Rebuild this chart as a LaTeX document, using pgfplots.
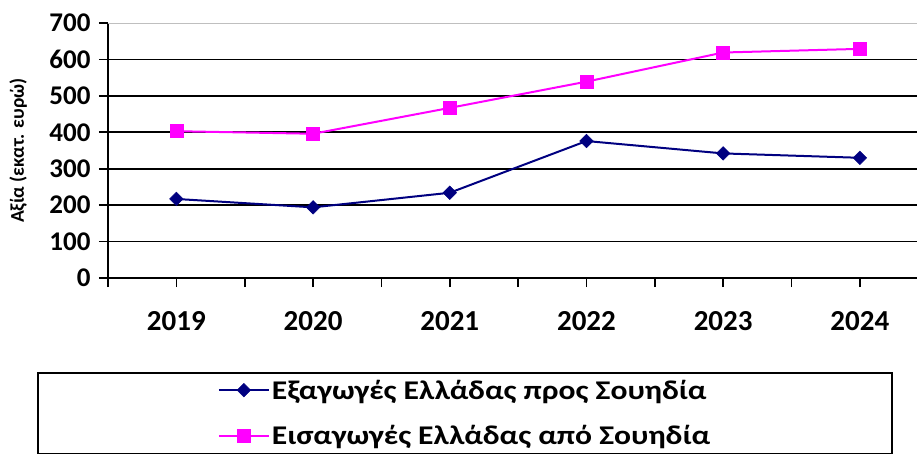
\documentclass[border=0pt]{standalone}
\usepackage{fontspec}
\setmainfont{Carlito}
\usepackage{graphicx}
\usepackage{pgfplots}
\pgfplotsset{compat=1.18}
\definecolor{navyc}{RGB}{0,0,128}
\definecolor{magc}{RGB}{255,0,255}
\begin{document}
\begin{tikzpicture}
\clip (-108pt,-178pt) rectangle (809pt,23pt+255pt);
\begin{axis}[
  scale only axis, width=809pt, height=255pt,
  xmin=-0.5, xmax=5.418, ymin=0, ymax=700,
  axis lines=left, axis line style={black, line width=1.6pt, -},
  xtick={0,1,2,3,4,5}, xticklabels={2019,2020,2021,2022,2023,2024},
  minor xtick={-0.5,0.5,1.5,2.5,3.5,4.5},
  ytick={0,100,200,300,400,500,600},
  extra y ticks={700},
  extra y tick style={grid style={gray!50, line width=0.8pt}},
  ymajorgrids, grid style={black, line width=1.6pt},
  tick align=outside, major tick length=9pt, minor tick length=9pt,
  tick style={black, line width=1.6pt},
  /pgf/number format/assume math mode=true,
  yticklabel style={font=\fontsize{27}{27}\selectfont\bfseries, xshift=-5pt},
  xticklabel style={font=\fontsize{29}{29}\selectfont\bfseries, yshift=-21pt},
  ylabel={Αξία (εκατ. ευρώ)},
  ylabel style={font=\fontsize{19.5}{19.5}\selectfont\bfseries, at={(axis description cs:-0.111,0.5)}, anchor=center},
  legend style={at={(0.4413,-0.3686)}, anchor=north, draw=black, line width=1.6pt,
    inner xsep=180pt, inner ysep=5pt, font=\fontsize{27}{27}\selectfont\bfseries,
    row sep=21pt},
  legend cell align=left,
  legend image code/.code={\draw[mark repeat=2,mark phase=2] plot coordinates {(0pt,0pt)(25pt,0pt)(50pt,0pt)};},
]
\addplot[navyc, line width=2pt, mark=square*, mark size=4.8pt, mark options={rotate=45, fill=navyc, line width=0.5pt}]
  coordinates {(0,217) (1,194) (2,234) (3,376) (4,342) (5,330)};
\addlegendentry{\scalebox{1.17}[1]{Εξαγωγές Ελλάδας προς Σουηδία}}
\addplot[magc, line width=2pt, mark=square*, mark size=6.5pt, mark options={fill=magc, line width=0.5pt}]
  coordinates {(0,403) (1,396) (2,467) (3,539) (4,619) (5,629)};
\addlegendentry{\scalebox{1.17}[1]{Εισαγωγές Ελλάδας από Σουηδία}}
\end{axis}
\end{tikzpicture}
\end{document}
